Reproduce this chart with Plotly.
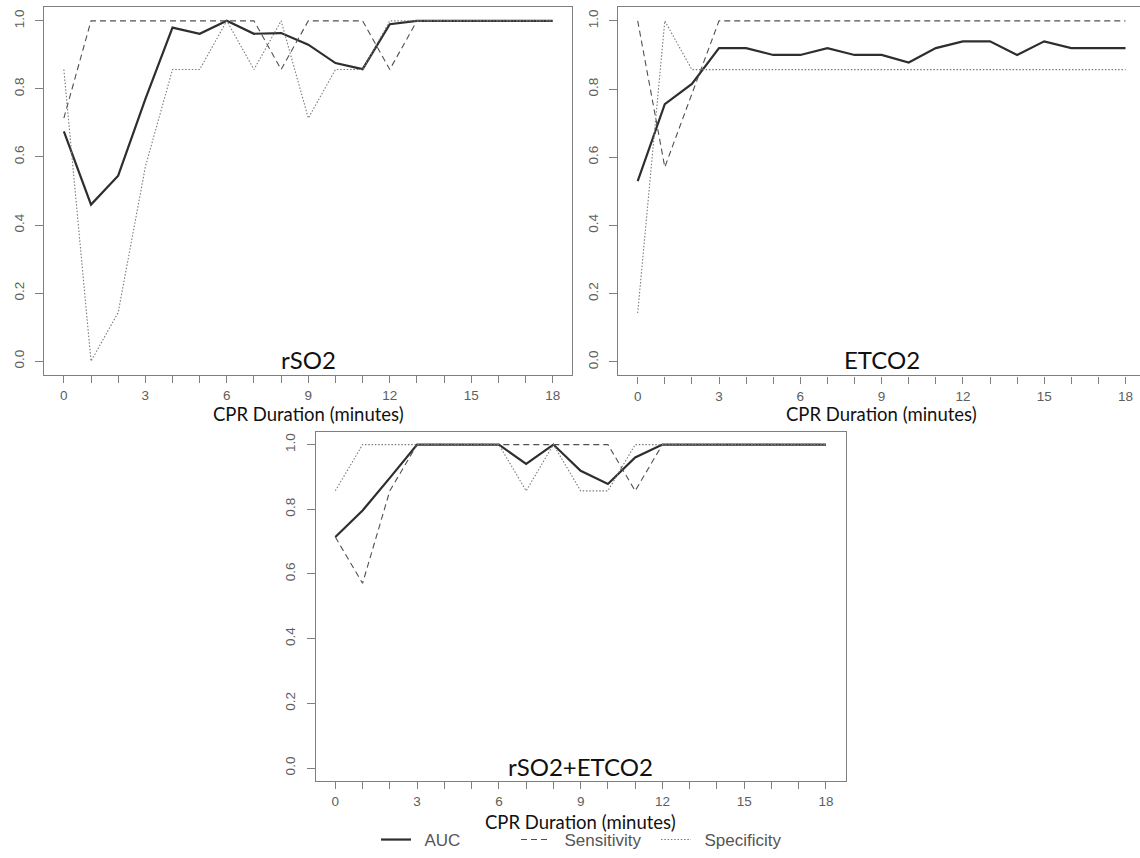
import plotly.graph_objects as go

# ---------------- data ----------------
minutes = list(range(19))
x_tick_labels = [str(m) if m % 3 == 0 else "" for m in minutes]
y_tick_vals = [0.0, 0.2, 0.4, 0.6, 0.8, 1.0]
y_tick_labels = ["0.0", "0.2", "0.4", "0.6", "0.8", "1.0"]

panel_names = ["rSO2", "ETCO2", "rSO2+ETCO2"]
x_title = "CPR Duration (minutes)"
series_names = ["AUC", "Sensitivity", "Specificity"]

rso2_auc = [0.675, 0.46, 0.545, 0.77, 0.98, 0.962, 1.0, 0.962, 0.964, 0.93,
            0.876, 0.858, 0.99, 1.0, 1.0, 1.0, 1.0, 1.0, 1.0]
rso2_sens = [0.714, 1.0, 1.0, 1.0, 1.0, 1.0, 1.0, 1.0, 0.857, 1.0,
             1.0, 1.0, 0.857, 1.0, 1.0, 1.0, 1.0, 1.0, 1.0]
rso2_spec = [0.857, 0.0, 0.143, 0.571, 0.857, 0.857, 1.0, 0.857, 1.0, 0.714,
             0.857, 0.857, 1.0, 1.0, 1.0, 1.0, 1.0, 1.0, 1.0]

etco2_auc = [0.53, 0.756, 0.815, 0.92, 0.92, 0.90, 0.90, 0.92, 0.90, 0.90,
             0.878, 0.92, 0.94, 0.94, 0.90, 0.94, 0.92, 0.92, 0.92]
etco2_sens = [1.0, 0.571, 0.786, 1.0, 1.0, 1.0, 1.0, 1.0, 1.0, 1.0,
              1.0, 1.0, 1.0, 1.0, 1.0, 1.0, 1.0, 1.0, 1.0]
etco2_spec = [0.143, 1.0, 0.857, 0.857, 0.857, 0.857, 0.857, 0.857, 0.857, 0.857,
              0.857, 0.857, 0.857, 0.857, 0.857, 0.857, 0.857, 0.857, 0.857]

combo_auc = [0.714, 0.796, 0.897, 1.0, 1.0, 1.0, 1.0, 0.94, 1.0, 0.919,
             0.878, 0.96, 1.0, 1.0, 1.0, 1.0, 1.0, 1.0, 1.0]
combo_sens = [0.714, 0.571, 0.857, 1.0, 1.0, 1.0, 1.0, 1.0, 1.0, 1.0,
              1.0, 0.857, 1.0, 1.0, 1.0, 1.0, 1.0, 1.0, 1.0]
combo_spec = [0.857, 1.0, 1.0, 1.0, 1.0, 1.0, 1.0, 0.857, 1.0, 0.857,
              0.857, 1.0, 1.0, 1.0, 1.0, 1.0, 1.0, 1.0, 1.0]

panels = [
    (rso2_auc, rso2_sens, rso2_spec),
    (etco2_auc, etco2_sens, etco2_spec),
    (combo_auc, combo_sens, combo_spec),
]

# ---------------- styling / layout ----------------
W, H = 1140, 858
AXIS_COL = "#7f7f7f"
TICK_FONT = dict(family="Liberation Sans, Arial, sans-serif", size=13.5, color="#5e5e5e")
LABEL_FONT_FAMILY = "Lato, Carlito, 'Open Sans', sans-serif"

line_styles = [
    dict(color="#2e2e2e", width=2.2, dash="solid"),
    dict(color="#505050", width=1.1, dash="6px,4px"),
    dict(color="#7a7a7a", width=1.1, dash="1.5px,1.8px"),
]

# plot boxes in pixels: (left, right, top, bottom) and x ranges
boxes = [
    (44.3, 572.3, 7.3, 378.3, [-0.72, 18.72]),
    (618.3, 1140.0, 7.3, 379.0, [-0.716, 18.535]),
    (315.7, 845.6, 435.7, 788.3, [-0.72, 18.72]),
]

fig = go.Figure()

for i, (vals, box) in enumerate(zip(panels, boxes)):
    xa = "x" if i == 0 else f"x{i+1}"
    ya = "y" if i == 0 else f"y{i+1}"
    for j, (name, ys) in enumerate(zip(series_names, vals)):
        fig.add_trace(go.Scatter(
            x=minutes, y=ys, mode="lines", name="\u2002" + name,
            line=line_styles[j], xaxis=xa, yaxis=ya,
            showlegend=(i == 2), legendrank=j,
        ))
    left, right, top, bottom, xr = box
    xkey = "xaxis" if i == 0 else f"xaxis{i+1}"
    ykey = "yaxis" if i == 0 else f"yaxis{i+1}"
    fig.layout[xkey] = dict(
        domain=[left / W, right / W], range=xr, anchor=ya,
        tickmode="array", tickvals=minutes, ticktext=x_tick_labels,
        ticks="outside", ticklen=7, tickcolor=AXIS_COL, tickwidth=1,
        showline=True, mirror=True, linecolor=AXIS_COL, linewidth=1.3,
        showgrid=False, zeroline=False, tickfont=TICK_FONT,
        ticklabelstandoff=1, fixedrange=True,
    )
    fig.layout[ykey] = dict(
        domain=[(H - bottom) / H, (H - top) / H], range=[-0.04, 1.04], anchor=xa,
        tickmode="array", tickvals=y_tick_vals, ticktext=y_tick_labels,
        tickangle=-90,
        ticks="outside", ticklen=8, tickcolor=AXIS_COL, tickwidth=1,
        showline=True, mirror=True, linecolor=AXIS_COL, linewidth=1.3,
        showgrid=False, zeroline=False, tickfont=TICK_FONT,
        ticklabelstandoff=6, fixedrange=True,
    )

annotations = []
# panel names inside plots
for i, name in enumerate(panel_names):
    xa = "x" if i == 0 else f"x{i+1}"
    ya = "y" if i == 0 else f"y{i+1}"
    annotations.append(dict(
        text=name, x=9, y=0.006, xref=xa, yref=ya, showarrow=False,
        xanchor="center", yanchor="middle",
        font=dict(family=LABEL_FONT_FAMILY, size=24, color="#111111"),
    ))
# x-axis titles
title_y = [(H - 418) / H, (H - 418) / H, (H - 830) / H]
for i in range(3):
    xa = "x" if i == 0 else f"x{i+1}"
    annotations.append(dict(
        text=x_title, x=9, y=title_y[i], xref=xa, yref="paper", showarrow=False,
        xanchor="center", yanchor="middle",
        font=dict(family=LABEL_FONT_FAMILY, size=18.5, color="#111111"),
    ))

fig.update_layout(
    width=W, height=H,
    margin=dict(l=0, r=0, t=0, b=0),
    paper_bgcolor="white", plot_bgcolor="white",
    annotations=annotations,
    showlegend=True,
    legend=dict(
        orientation="h", x=0.5 + 16 / W, xanchor="center", y=(H - 848) / H, yanchor="middle",
        font=dict(family="Liberation Sans, Arial, sans-serif", size=17, color="#555555"),
        bgcolor="rgba(0,0,0,0)", entrywidth=95, itemwidth=30,
        traceorder="normal",
    ),
)

fig.write_html("out.html", config={"displayModeBar": False},
               post_script="document.body.style.margin='0';")
